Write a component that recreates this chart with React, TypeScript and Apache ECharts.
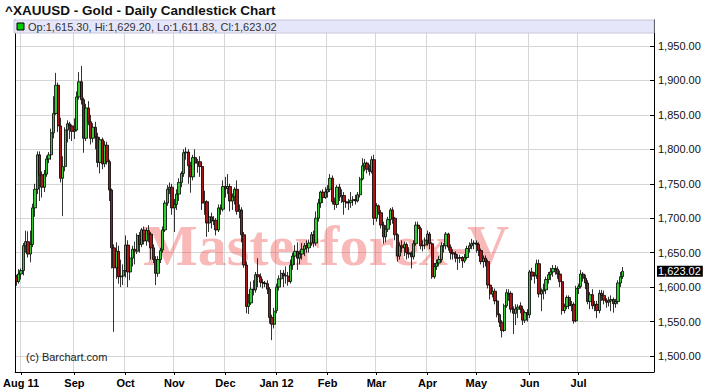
import React, { useEffect, useRef } from 'react';
import * as echarts from 'echarts';

// Each candle: [open, close, low, high]
const jul11 = [[1615,1608,1602,1618],[1608,1619,1605,1626]];
const aug11 = [
  [1619,1624,1611,1627],[1624,1660,1617,1664],[1660,1666,1650,1682],[1666,1648,1643,1681],[1648,1662,1636,1682],
  [1662,1715,1658,1721],[1715,1742,1702,1750],[1742,1792,1735,1797],[1792,1763,1725,1797],[1763,1745,1730,1768],
  [1745,1764,1738,1770],[1764,1786,1760,1791],[1786,1792,1780,1796],[1792,1824,1785,1830],[1824,1852,1816,1877],
  [1852,1893,1850,1911],[1893,1834,1825,1897],[1834,1758,1752,1846],[1758,1775,1703,1790],[1775,1828,1768,1832],
  [1828,1837,1810,1842],[1837,1834,1815,1840],[1834,1826,1812,1836]
];
const sep11 = [
  [1826,1828,1815,1845],[1828,1876,1826,1884],[1876,1898,1872,1912],[1898,1872,1865,1921],[1872,1816,1795,1875],
  [1816,1860,1812,1866],[1860,1840,1835,1870],[1840,1816,1807,1850],[1816,1832,1810,1838],[1832,1818,1800,1840],
  [1818,1781,1774,1824],[1781,1814,1765,1818],[1814,1779,1771,1817],[1779,1806,1774,1812],[1806,1782,1778,1811],
  [1782,1741,1725,1785],[1741,1657,1627,1743],[1657,1628,1535,1662],[1628,1652,1612,1665],[1652,1615,1605,1660],
  [1615,1616,1600,1640],[1616,1624,1603,1633]
];
const oct11 = [
  [1624,1661,1614,1675],[1661,1622,1600,1668],[1622,1642,1610,1645],[1642,1655,1630,1660],[1655,1652,1633,1666],
  [1652,1675,1648,1678],[1675,1662,1650,1680],[1662,1683,1658,1686],[1683,1667,1662,1688],[1667,1682,1660,1686],
  [1682,1677,1665,1690],[1677,1657,1640,1680],[1657,1640,1635,1662],[1640,1620,1603,1645],[1620,1640,1615,1645],
  [1640,1653,1635,1657],[1654,1683,1650,1688],[1683,1722,1680,1726],[1722,1742,1718,1748],[1742,1745,1735,1752],
  [1745,1715,1705,1750]
];
const nov11 = [
  [1715,1720,1680,1728],[1720,1735,1712,1742],[1735,1752,1725,1758],[1752,1765,1745,1768],[1765,1795,1760,1800],
  [1795,1796,1785,1803],[1796,1776,1750,1800],[1776,1760,1737,1782],[1760,1788,1755,1792],[1788,1780,1770,1800],
  [1780,1782,1766,1786],[1782,1775,1760,1790],[1775,1722,1712,1780],[1722,1724,1705,1740],[1724,1693,1673,1726],
  [1693,1702,1680,1710],[1702,1696,1685,1708],[1696,1697,1690,1703],[1697,1683,1675,1700],[1683,1715,1680,1720],
  [1715,1713,1705,1720],[1713,1746,1710,1755]
];
const dec11 = [
  [1746,1743,1730,1760],[1743,1746,1735,1764],[1746,1725,1710,1750],[1725,1731,1712,1736],[1731,1742,1720,1745],
  [1742,1710,1705,1755],[1710,1712,1700,1720],[1712,1676,1665,1716],[1676,1632,1628,1680],[1632,1572,1562,1637],
  [1572,1577,1561,1590],[1577,1597,1574,1608],[1597,1596,1588,1610],[1596,1618,1592,1622],[1618,1615,1600,1642],
  [1615,1607,1600,1620],[1607,1606,1598,1612],[1606,1605,1600,1609],[1605,1597,1590,1610],[1597,1556,1547,1600],
  [1556,1546,1523,1560],[1546,1565,1540,1570]
];
const jan12 = [
  [1566,1600,1562,1605],[1600,1612,1595,1617],[1612,1620,1605,1625],[1620,1617,1600,1625],[1617,1616,1605,1630],
  [1616,1608,1602,1622],[1608,1632,1605,1640],[1632,1645,1625,1650],[1645,1652,1632,1661],[1652,1642,1625,1665],
  [1642,1648,1633,1653],[1648,1655,1640,1664],[1655,1660,1645,1664],[1660,1657,1650,1668],[1657,1664,1650,1669],
  [1664,1676,1660,1680],[1676,1664,1658,1682],[1664,1700,1660,1710],[1700,1722,1695,1728],[1722,1738,1715,1740],
  [1738,1730,1722,1742],[1730,1738,1728,1745]
];
const feb12 = [
  [1738,1742,1730,1748],[1742,1758,1738,1764],[1758,1724,1720,1762],[1724,1720,1712,1730],[1720,1745,1715,1748],
  [1745,1731,1725,1750],[1731,1733,1722,1742],[1733,1724,1705,1738],[1724,1722,1715,1728],[1722,1723,1712,1728],
  [1723,1726,1715,1738],[1726,1727,1718,1732],[1727,1725,1720,1734],[1725,1734,1723,1738],[1734,1757,1730,1760],
  [1757,1776,1755,1787],[1776,1780,1768,1786],[1780,1771,1765,1782],[1771,1768,1762,1778],[1768,1785,1765,1790],
  [1785,1700,1690,1792]
];
const mar12 = [
  [1700,1718,1695,1722],[1718,1708,1705,1720],[1708,1690,1685,1712],[1690,1673,1663,1695],[1673,1684,1665,1690],
  [1684,1698,1680,1702],[1698,1712,1690,1715],[1712,1700,1692,1716],[1700,1676,1668,1702],[1676,1645,1637,1678],
  [1645,1660,1640,1665],[1660,1657,1650,1668],[1657,1662,1645,1666],[1662,1650,1640,1665],[1650,1648,1642,1658],
  [1648,1644,1627,1652],[1644,1663,1640,1668],[1663,1690,1660,1695],[1690,1685,1678,1695],[1685,1660,1655,1688],
  [1660,1661,1652,1668],[1661,1668,1655,1672]
];
const apr12 = [
  [1668,1677,1660,1682],[1677,1663,1655,1680],[1663,1615,1612,1665],[1615,1630,1612,1635],[1630,1635,1625,1640],
  [1635,1640,1630,1645],[1640,1660,1636,1665],[1660,1660,1650,1664],[1660,1677,1655,1680],[1677,1658,1653,1679],
  [1658,1650,1640,1662],[1650,1648,1640,1655],[1648,1642,1636,1652],[1642,1642,1625,1648],[1642,1643,1635,1647],
  [1643,1638,1628,1645],[1638,1643,1635,1648],[1643,1656,1640,1660],[1656,1660,1650,1665],[1660,1663,1655,1670],
  [1663,1664,1655,1668]
];
const may12 = [
  [1664,1662,1650,1668],[1662,1653,1645,1665],[1653,1637,1633,1656],[1637,1642,1628,1646],[1642,1637,1630,1646],
  [1637,1603,1598,1640],[1603,1590,1582,1605],[1590,1594,1585,1600],[1594,1580,1575,1598],[1580,1560,1556,1582],
  [1560,1549,1542,1562],[1549,1537,1527,1552],[1537,1573,1535,1576],[1573,1592,1570,1597],[1590,1591,1580,1597],
  [1591,1568,1563,1594],[1568,1562,1532,1572],[1562,1568,1545,1575],[1568,1571,1555,1575],[1573,1568,1562,1578],
  [1568,1552,1545,1573],[1552,1563,1548,1566],[1563,1560,1550,1568]
];
const jun12 = [
  [1560,1622,1555,1625],[1622,1616,1610,1628],[1616,1617,1605,1622],[1617,1634,1612,1640],[1634,1590,1585,1640],
  [1590,1594,1565,1598],[1594,1596,1582,1605],[1596,1611,1590,1615],[1611,1618,1605,1622],[1618,1622,1610,1628],
  [1622,1627,1615,1632],[1627,1626,1618,1632],[1626,1619,1612,1630],[1619,1608,1600,1624],[1608,1566,1560,1610],
  [1566,1572,1562,1576],[1572,1585,1568,1588],[1585,1573,1568,1588],[1573,1575,1565,1580],[1575,1551,1547,1578],
  [1551,1598,1549,1602]
];
const jul12 = [
  [1598,1601,1590,1605],[1601,1619,1598,1625],[1619,1613,1608,1622],[1613,1606,1597,1618],[1606,1579,1575,1610],
  [1579,1589,1568,1593],[1589,1573,1568,1597],[1573,1575,1565,1580],[1575,1566,1555,1580],[1566,1591,1562,1596],
  [1591,1588,1580,1596],[1588,1581,1575,1595],[1581,1578,1570,1584],[1578,1580,1572,1586],[1580,1582,1565,1588],
  [1582,1576,1563,1585],[1576,1579,1570,1583],[1579,1606,1575,1610],[1606,1615,1600,1622],[1615.30,1623.02,1611.83,1629.20]
];

const months = [jul11, aug11, sep11, oct11, nov11, dec11, jan12, feb12, mar12, apr12, may12, jun12, jul12];
const tickLabels = ['Aug 11', 'Sep', 'Oct', 'Nov', 'Dec', 'Jan 12', 'Feb', 'Mar', 'Apr', 'May', 'Jun', 'Jul'];
const firstDate = '2011-07-28';
const emptySlotsAfter = 13;
const yMin = 1476.8;
const yMax = 1987.7;

const FONT = '"Liberation Sans", Arial, Helvetica, sans-serif';

function fmt2(v: number): string {
  const [i, d] = v.toFixed(2).split('.');
  return i.replace(/\B(?=(\d{3})+(?!\d))/g, ',') + '.' + d;
}

const candles: number[][] = months.flat();
const labelAt = new Map<number, string>();
{
  let idx = months[0].length;
  for (let m = 1; m < months.length; m++) {
    labelAt.set(idx, tickLabels[m - 1]);
    idx += months[m].length;
  }
}
const categories: string[] = [];
{
  const d = new Date(firstDate + 'T12:00:00Z');
  const total = candles.length + emptySlotsAfter;
  while (categories.length < total) {
    const wd = d.getUTCDay();
    if (wd !== 0 && wd !== 6) categories.push(d.toISOString().slice(0, 10));
    d.setUTCDate(d.getUTCDate() + 1);
  }
}
const last = candles[candles.length - 1];
const legendText = `Op:${fmt2(last[0])}, Hi:${fmt2(last[3])}, Lo:${fmt2(last[2])}, Cl:${fmt2(last[1])}`;

const isTick = (i: number) => labelAt.has(i);

export default function App() {
  const ref = useRef<HTMLDivElement>(null);
  useEffect(() => {
    if (!ref.current) return;
    const chart = echarts.init(ref.current, undefined, { renderer: 'svg' });
    chart.setOption({
      animation: false,
      backgroundColor: '#ffffff',
      textStyle: { fontFamily: FONT },
      grid: { left: 14, right: 62, top: 20, bottom: 19, containLabel: false },
      xAxis: {
        type: 'category',
        data: categories,
        boundaryGap: true,
        axisLine: { show: true, lineStyle: { color: '#000', width: 1 } },
        axisTick: { show: true, alignWithLabel: true, interval: isTick, length: 3, lineStyle: { color: '#000' } },
        axisLabel: {
          interval: isTick,
          formatter: (_v: string, i: number) => labelAt.get(i) ?? '',
          fontWeight: 'bold', fontSize: 11, color: '#000', margin: 5, fontFamily: FONT,
        },
        splitLine: { show: true, interval: isTick, lineStyle: { color: '#d6d6d6', width: 1 } },
      },
      yAxis: [
        {
          type: 'value', position: 'right', min: yMin, max: yMax, minInterval: 50, maxInterval: 50,
          axisLine: { show: true, lineStyle: { color: '#000', width: 1 } },
          axisTick: { show: true, inside: true, length: 4, lineStyle: { color: '#000' } },
          axisLabel: {
            formatter: (v: number) => (Math.abs(v % 50) < 1e-6 ? fmt2(v) : ''),
            fontSize: 11, color: '#111', margin: 4, fontFamily: FONT,
          },
          splitLine: { show: true, lineStyle: { color: '#d6d6d6', width: 1 } },
        },
        {
          type: 'value', position: 'left', min: yMin, max: yMax,
          axisLine: { show: true, lineStyle: { color: '#000', width: 1 } },
          axisTick: { show: false }, axisLabel: { show: false }, splitLine: { show: false },
        },
      ],
      series: [
        {
          type: 'candlestick',
          data: candles,
          barWidth: 2.8,
          z: 3,
          itemStyle: {
            color: '#33cc33', color0: '#a81818',
            borderColor: '#000', borderColor0: '#000', borderColorDoji: '#000', borderWidth: 0.8,
          },
          markLine: {
            silent: true, symbol: ['none', 'none'],
            lineStyle: { color: 'rgba(0,0,0,0)', width: 1 },
            label: {
              show: true, position: 'end', formatter: fmt2(last[1]),
              color: '#fff', backgroundColor: '#000', fontSize: 11, fontFamily: FONT,
              padding: [0, 2, 0, 1], distance: 3,
            },
            data: [{ yAxis: last[1] }],
          },
        },
      ],
      graphic: [
        {
          type: 'text', x: 326, y: 245, z: 1, silent: true,
          style: {
            text: 'Masterforex-V', font: 'bold 58px "Liberation Serif", "Times New Roman", serif',
            fill: 'rgba(240,70,70,0.38)', textAlign: 'center', textVerticalAlign: 'middle',
          },
        },
        {
          type: 'text', x: 5, y: 10, z: 10,
          style: {
            text: '^XAUUSD - Gold - Daily Candlestick Chart', font: `bold 13.5px ${FONT}`,
            fill: '#111', textVerticalAlign: 'middle',
          },
        },
        {
          type: 'rect', z: 10, shape: { x: 14, y: 20, width: 640, height: 13 },
          style: { fill: '#e6e6fa', stroke: '#c8c8dc', lineWidth: 1 },
        },
        {
          type: 'rect', z: 11, shape: { x: 17, y: 23, width: 7, height: 7 },
          style: { fill: '#00cc00', stroke: '#000', lineWidth: 1 },
        },
        {
          type: 'text', x: 28, y: 27, z: 11,
          style: { text: legendText, font: `11px ${FONT}`, fill: '#333', textVerticalAlign: 'middle' },
        },
        {
          type: 'text', x: 26, y: 357, z: 10,
          style: { text: '(c) Barchart.com', font: `11px ${FONT}`, fill: '#222', textVerticalAlign: 'middle' },
        },
      ],
    });
    return () => chart.dispose();
  }, []);
  return (
    <div
      ref={ref}
      style={{ position: 'absolute', left: 0, top: 0, width: 716, height: 391 }}
    />
  );
}
